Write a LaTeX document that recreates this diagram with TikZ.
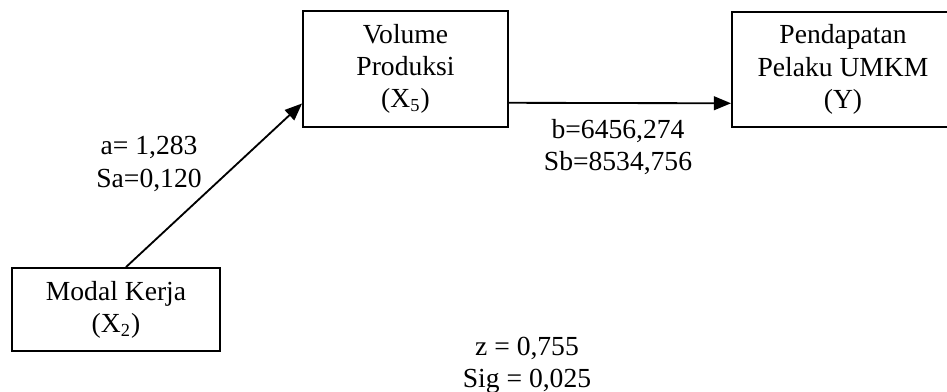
\documentclass[tikz,border=0pt]{standalone}
\usepackage{fontspec}
\setmainfont{Liberation Serif}
\usetikzlibrary{arrows.meta}
\begin{document}
\begin{tikzpicture}[x=0.435pt,y=-0.435pt,
  box/.style={draw,line width=0.8pt,align=center,inner sep=0pt},
  lbl/.style={align=center},
  font=\fontsize{12}{14}\selectfont,
  >={Triangle[length=7.5pt,width=6pt]}]
  \useasboundingbox (0,0) rectangle (947,392);
  \node[box,minimum width=89.2pt,minimum height=50.5pt] (vp) at (405.5,69) {Volume\\Produksi\\(X\textsubscript{5})};
  \node[box,minimum width=96.6pt,minimum height=50pt] (pd) at (843,69.5) {Pendapatan\\Pelaku UMKM\\(Y)};
  \node[box,minimum width=90.5pt,minimum height=36.1pt] (mk) at (116,309.5) {Modal Kerja\\(X\textsubscript{2})};
  \draw[->,line width=0.8pt] ([xshift=4.35pt]mk.north) -- ([yshift=-15pt]vp.west);
  \draw[->,line width=0.8pt] ([yshift=-14.7pt]vp.east) -- ([yshift=-14.7pt]pd.west);
  \node[lbl] (ab) at (149,164) {a= 1,283\\Sa=0,120};
  \node[lbl] (bb) at (618,147) {b=6456,274\\Sb=8534,756};
  \node[lbl] (zs) at (527,365) {z = 0,755\\Sig = 0,025};
\end{tikzpicture}
\end{document}
